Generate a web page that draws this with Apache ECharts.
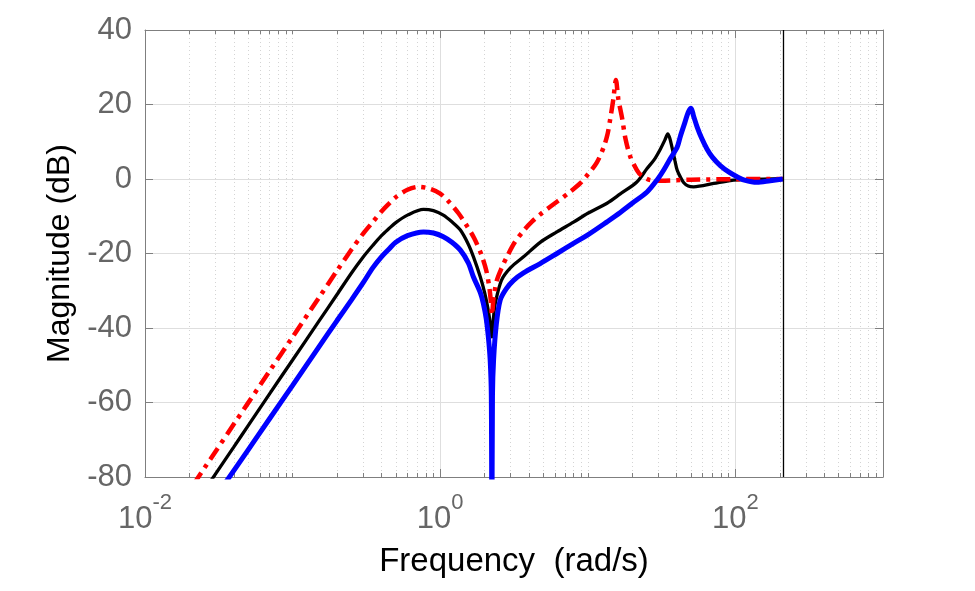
<!DOCTYPE html>
<html>
<head>
<meta charset="utf-8">
<script src="https://cdn.jsdelivr.net/npm/echarts@6/dist/echarts.min.js"></script>
<style>
  html, body { margin: 0; padding: 0; background: #fff; }
  #chart { width: 975px; height: 591px; }
</style>
</head>
<body>
<div id="chart"></div>
<script>
// magnitude curves (rad/s, dB)
const redFreq = [0.0213, 0.03, 0.04, 0.05, 0.07, 0.1, 0.15, 0.2, 0.25, 0.3, 0.35, 0.4, 0.45, 0.5, 0.6, 0.71, 0.85, 1.0, 1.15, 1.33, 1.5, 1.7, 1.9, 2.05, 2.15, 2.2, 2.24, 2.3, 2.42, 2.6, 2.83, 3.2, 3.67, 4.2, 4.76, 5.5, 6.18, 7.5, 8.9, 10, 11.5, 12.8, 13.6, 14.2, 14.9, 15.5, 16.1, 17.1, 18.0, 19.4, 21.5, 23, 26.5, 31, 50, 100, 209.4];
const redMag  = [-82, -73.2, -65.8, -60.1, -51.5, -42.4, -32.0, -24.6, -19.0, -14.7, -11.5, -8.7, -6.6, -4.9, -2.9, -2.1, -2.6, -3.9, -6.2, -9.2, -12.3, -15.9, -20.3, -24.5, -29.0, -32.5, -36.5, -32.0, -27.2, -24.0, -20.9, -17.0, -13.9, -11.4, -9.5, -7.6, -6.1, -3.6, -1.1, 1.2, 4.4, 8.5, 12.0, 16.2, 21.5, 26.6, 21.5, 16.2, 10.8, 6.0, 2.4, 1.0, -0.3, -0.45, -0.2, -0.05, 0];

const blackFreq = [0.0269, 0.04, 0.05, 0.07, 0.1, 0.15, 0.2, 0.25, 0.3, 0.35, 0.4, 0.45, 0.5, 0.6, 0.77, 0.9, 1.05, 1.2, 1.37, 1.55, 1.68, 1.87, 2.0, 2.1, 2.18, 2.24, 2.3, 2.36, 2.6, 3.0, 3.67, 4.76, 6.18, 8.0, 10, 13.5, 16.6, 21.5, 25.2, 28.2, 31, 33.3, 34.8, 35.9, 37.2, 38.9, 40.3, 42.4, 44.7, 47.9, 52.1, 71.3, 92.5, 126, 209.4];
const blackMag  = [-82, -71.9, -66.2, -57.6, -48.6, -38.3, -31.0, -25.3, -21.0, -17.8, -15.2, -13.3, -11.7, -9.7, -8.15, -8.5, -9.7, -11.5, -13.7, -17.5, -20.9, -26.3, -30.5, -34.5, -38.5, -42.4, -37.0, -33.4, -27.2, -23.8, -20.9, -17.0, -14.2, -11.6, -9.2, -6.5, -4.0, -0.8, 2.8, 5.2, 8.0, 10.5, 12.1, 11.0, 8.5, 5.0, 2.4, 0.5, -1.0, -1.9, -2.1, -1.2, -0.4, -0.1, 0.1];

const blueFreq = [0.0344, 0.05, 0.07, 0.1, 0.15, 0.2, 0.25, 0.3, 0.35, 0.4, 0.45, 0.5, 0.6, 0.77, 0.9, 1.05, 1.2, 1.37, 1.55, 1.68, 1.87, 1.96, 2.05, 2.12, 2.18, 2.22, 2.24, 2.26, 2.3, 2.4, 2.55, 2.8, 3.14, 3.67, 4.76, 6.18, 8.0, 10, 13.5, 16.6, 20, 25.2, 29.8, 32.7, 36, 40.3, 42.4, 45.5, 48, 50.1, 52, 55, 59, 64.3, 70, 79, 90, 102.6, 115, 140, 172, 209.4];
const blueMag  = [-82, -72.7, -64.3, -55.4, -45.2, -38.0, -32.5, -27.9, -23.8, -20.9, -18.8, -17.0, -15.2, -14.2, -14.5, -15.5, -17.0, -19.1, -22.5, -26.3, -30.5, -33.4, -37.5, -42.4, -48.5, -58, -100, -58, -48.5, -39.0, -32.5, -29.5, -27.2, -25.2, -22.7, -20.0, -17.3, -15.0, -11.5, -9.0, -6.5, -3.5, 0, 2.4, 5.3, 8.5, 11.5, 15.2, 18.0, 19.0, 17.0, 14.0, 11.0, 8.0, 5.8, 3.6, 1.9, 0.6, -0.3, -0.9, -0.45, 0];

const nyquist = [209.4];
const majorTicks = [0.01, 1, 100];
const minorTicks = [];
for (let n = -2; n <= 2; n++) {
  for (let k = 1; k <= 9; k++) {
    if (k === 1 && n % 2 === 0) continue;
    minorTicks.push(+(k * Math.pow(10, n)).toPrecision(6));
  }
}

const axisColor = '#7f7f7f';
const labelColor = '#666666';
const gridColor = '#dedede';
const font = 'Liberation Sans';

const zip = (xs, ys) => xs.map((x, i) => [x, ys[i]]);

const logAxis = (extra) => Object.assign({
  type: 'log', logBase: 10, min: 0.01, max: 1000, gridIndex: 0
}, extra);

const chart = echarts.init(document.getElementById('chart'));
chart.setOption({
  animation: false,
  backgroundColor: '#fff',
  grid: { left: 145, right: 92, top: 30, bottom: 114, containLabel: false },
  xAxis: [
    logAxis({
      position: 'bottom',
      name: 'Frequency  (rad/s)',
      nameLocation: 'middle',
      nameGap: 68,
      nameTextStyle: { fontFamily: font, fontSize: 33, color: '#000' },
      axisLine: { show: true, onZero: false, lineStyle: { color: axisColor, width: 1 } },
      axisTick: { show: true, inside: true, length: 8, customValues: majorTicks, lineStyle: { color: axisColor } },
      axisLabel: {
        customValues: majorTicks,
        margin: 15,
        formatter: (v) => '{b|10}{s|' + Math.round(Math.log10(v)) + '}',
        rich: {
          b: { fontFamily: font, fontSize: 31, lineHeight: 43, color: labelColor, verticalAlign: 'bottom' },
          s: { fontFamily: font, fontSize: 22, color: labelColor, verticalAlign: 'top' }
        }
      },
      splitLine: { show: true, lineStyle: { color: gridColor, width: 1 } }
    }),
    logAxis({
      position: 'bottom',
      axisLine: { show: false, onZero: false },
      axisTick: { show: true, inside: true, length: 4, customValues: minorTicks, lineStyle: { color: axisColor } },
      axisLabel: { show: false },
      splitLine: { show: true, lineStyle: { color: '#d4d4d4', width: 1, type: [1, 3] } }
    }),
    logAxis({
      position: 'top',
      axisLine: { show: true, onZero: false, lineStyle: { color: axisColor, width: 1 } },
      axisTick: { show: true, inside: true, length: 8, customValues: majorTicks, lineStyle: { color: axisColor } },
      axisLabel: { show: false },
      splitLine: { show: false }
    }),
    logAxis({
      position: 'top',
      axisLine: { show: false, onZero: false },
      axisTick: { show: true, inside: true, length: 4, customValues: minorTicks, lineStyle: { color: axisColor } },
      axisLabel: { show: false },
      splitLine: { show: false }
    })
  ],
  yAxis: [
    {
      type: 'value', min: -80, max: 40, interval: 20, position: 'left',
      name: 'Magnitude (dB)',
      nameLocation: 'middle',
      nameGap: 68,
      nameTextStyle: { fontFamily: font, fontSize: 32, color: '#000' },
      axisLine: { show: true, onZero: false, lineStyle: { color: axisColor, width: 1 } },
      axisTick: { show: true, inside: true, length: 8, lineStyle: { color: axisColor } },
      axisLabel: { fontFamily: font, fontSize: 31, color: labelColor, margin: 13 },
      splitLine: { show: true, lineStyle: { color: gridColor, width: 1 } }
    },
    {
      type: 'value', min: -80, max: 40, interval: 20, position: 'right',
      axisLine: { show: true, onZero: false, lineStyle: { color: axisColor, width: 1 } },
      axisTick: { show: true, inside: true, length: 8, lineStyle: { color: axisColor } },
      axisLabel: { show: false },
      splitLine: { show: false }
    }
  ],
  series: [
    {
      name: 'black', type: 'line', xAxisIndex: 0, yAxisIndex: 0,
      data: zip(blackFreq, blackMag),
      symbol: 'none', smooth: 0.3, clip: true,
      lineStyle: { color: '#000000', width: 3.3 },
      markLine: {
        silent: true, symbol: ['none', 'none'], label: { show: false },
        lineStyle: { color: '#000000', width: 1.3, type: 'solid' },
        data: nyquist.map(v => ({ xAxis: v }))
      }
    },
    {
      name: 'red', type: 'line', xAxisIndex: 0, yAxisIndex: 0,
      data: zip(redFreq, redMag),
      symbol: 'none', smooth: 0.3, clip: true,
      lineStyle: { color: '#ff0000', width: 4.5, type: [14, 6, 4, 6] }
    },
    {
      name: 'blue', type: 'line', xAxisIndex: 0, yAxisIndex: 0,
      data: zip(blueFreq, blueMag),
      symbol: 'none', smooth: 0.3, clip: true,
      lineStyle: { color: '#0000ff', width: 5 }
    }
  ]
});
</script>
</body>
</html>
